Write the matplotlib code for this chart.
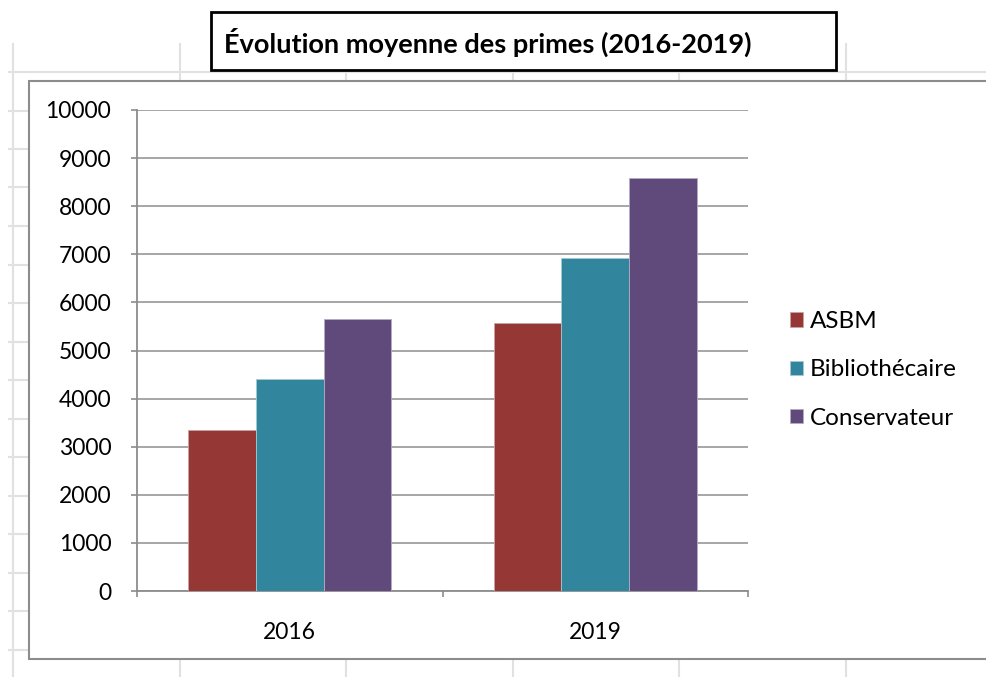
import matplotlib
matplotlib.use("Agg")
import matplotlib.pyplot as plt
from matplotlib.lines import Line2D
from matplotlib.patches import Rectangle
import numpy as np

W, H = 986, 677

categories = ["2016", "2019"]
series_names = ["ASBM", "Bibliothécaire", "Conservateur"]
asbm = [3340, 5580]
bibliothecaire = [4410, 6920]
conservateur = [5650, 8580]
y_ticks = [0, 1000, 2000, 3000, 4000, 5000, 6000, 7000, 8000, 9000, 10000]
title = "Évolution moyenne des primes (2016-2019)"

colors = ["#953735", "#31859C", "#604A7B"]
edges = ["#c9a3a2", "#a3c9d3", "#b5aac4"]
FONT = "Lato"


def fx(x):
    return x / W


def fy(y):
    return 1 - y / H


fig = plt.figure(figsize=(W / 100, H / 100), dpi=100)
fig.patch.set_facecolor("white")

# spreadsheet cell grid behind the chart object
sheet_grey = "#e1e1e1"
for y in np.arange(72, 677, 38.5):
    fig.add_artist(Line2D([fx(9), 1], [fy(y), fy(y)], color=sheet_grey, lw=1.5, zorder=0))
for x in [13, 180, 346, 513, 679, 846]:
    fig.add_artist(Line2D([fx(x), fx(x)], [fy(44), 0], color=sheet_grey, lw=1.5, zorder=0))

# chart area
fig.add_artist(Rectangle((fx(29), fy(659)), fx(1000 - 29), fy(81) - fy(659),
                         facecolor="white", edgecolor="#8c8c8c", lw=1.5, zorder=1))

ax = fig.add_axes([fx(137), fy(591), fx(748 - 137), fy(110) - fy(591)], zorder=2)
ax.set_facecolor("none")

x = np.arange(len(categories))
width = 0.222
for i, (vals, name) in enumerate(zip([asbm, bibliothecaire, conservateur], series_names)):
    ax.bar(x + (i - 1) * width, vals, width, color=colors[i], edgecolor=edges[i],
           linewidth=0.6, label=name, zorder=3)

ax.set_xlim(-0.5, 1.5)
ax.set_ylim(0, 10000)
ax.set_yticks(y_ticks)
ax.set_yticklabels([str(v) for v in y_ticks], fontsize=16.5, family=FONT)
ax.yaxis.grid(True, color="#a6a6a6", linewidth=1.4, zorder=0)
ax.set_axisbelow(True)

ax.set_xticks(x)
ax.set_xticklabels(categories, fontsize=16.5, family=FONT)
ax.set_xticks([-0.5, 0.5, 1.5], minor=True)
ax.tick_params(axis="x", which="major", length=0, pad=22)
ax.tick_params(axis="x", which="minor", length=4.5, color="#8c8c8c", width=1.2)
ax.tick_params(axis="y", length=4.5, color="#8c8c8c", width=1.2, pad=14)

for side in ["top", "right"]:
    ax.spines[side].set_visible(False)
for side in ["left", "bottom"]:
    ax.spines[side].set_color("#8c8c8c")
    ax.spines[side].set_linewidth(1.3)

ax.legend(loc="center left", bbox_to_anchor=(fx(790), fy(370)),
          bbox_transform=fig.transFigure, frameon=False,
          prop={"family": FONT, "size": 17.5},
          handlelength=0.55, handleheight=0.55, handletextpad=0.25,
          labelspacing=1.12, borderaxespad=0, borderpad=0)

# title box
fig.add_artist(Rectangle((fx(211), fy(70)), fx(836 - 211), fy(12) - fy(70),
                         facecolor="white", edgecolor="black", lw=2, zorder=4))
fig.text(fx(224), fy(42), title, fontsize=19.5, fontweight="bold", family=FONT,
         ha="left", va="center", zorder=5)

fig.savefig("out.png", dpi=100)
